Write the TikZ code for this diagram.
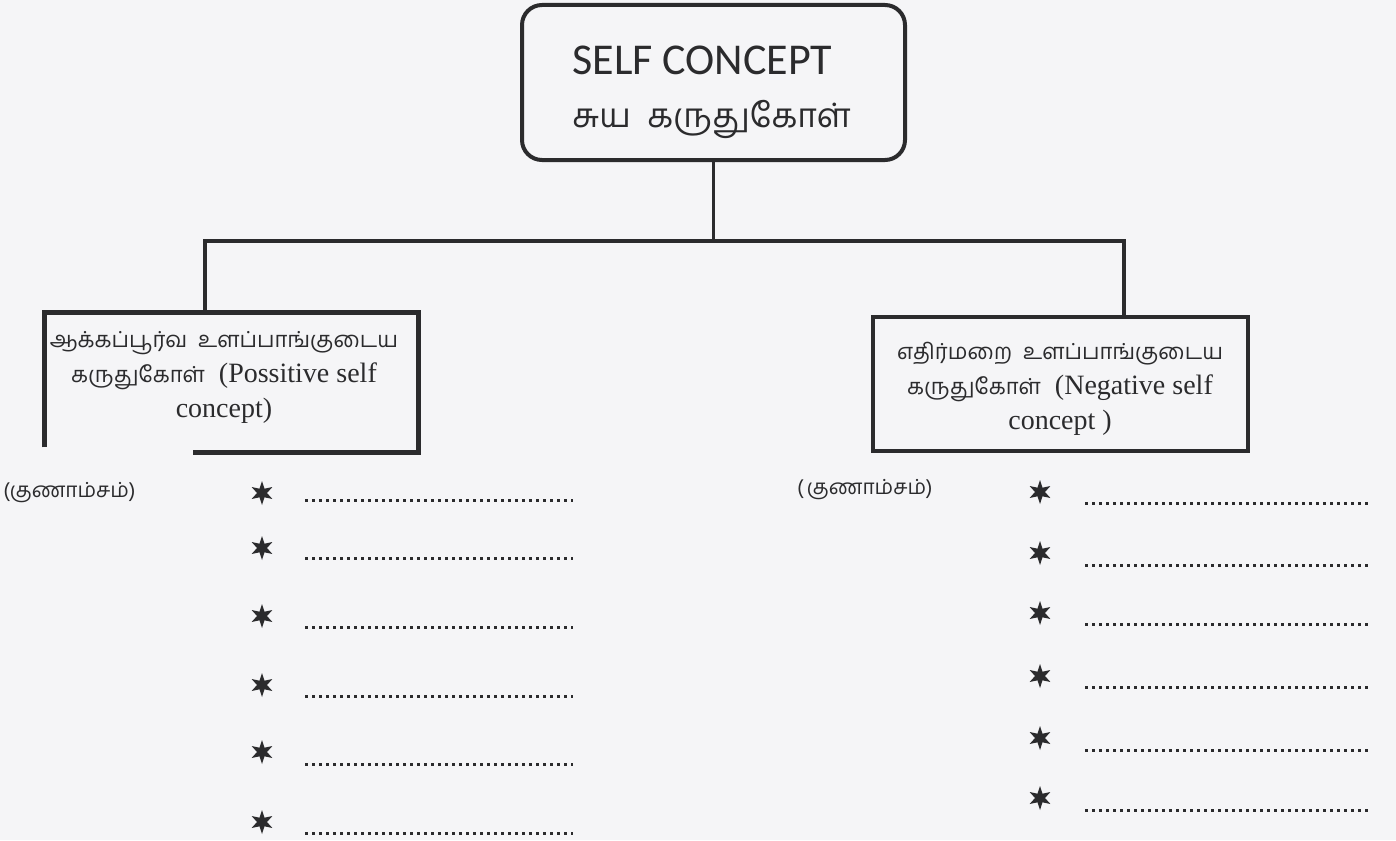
\documentclass[tikz,border=0pt]{standalone}
\usepackage{fontspec}
\setmainfont{Liberation Serif}
\newfontfamily\tamfont[Script=Tamil,Scale=0.8]{Hind Madurai}
\newfontfamily\carfont{Carlito}
\usetikzlibrary{shapes.geometric,calc}
\definecolor{ink}{HTML}{2B2B2D}
\definecolor{paper}{HTML}{F5F5F7}
\tikzset{
  boxline/.style={draw=ink, line width=2.2pt, line join=miter},
  boxtxt/.style={align=center, text=ink, font=\fontsize{14}{17.5}\selectfont, inner sep=0pt},
  qlabel/.style={text=ink, font=\tamfont\fontsize{13}{16}\selectfont, inner sep=0pt},
  starsix/.style={shape=star, star points=6, star point ratio=2.4, fill=ink, draw=none, minimum size=12pt, inner sep=0pt},
  dotrule/.style={draw=ink, line width=1.5pt, dash pattern=on 1.3pt off 2.2pt}
}
\newcommand{\tamsm}[1]{{\tamfont\fontsize{13.8}{17.5}\selectfont #1}}
\begin{document}
\begin{tikzpicture}[x=0.5pt,y=-0.5pt]
\fill[paper] (0,0) rectangle (1396,840);
\useasboundingbox (0,0) rectangle (1396,840);

% top box
\node[draw=ink, line width=2pt, rounded corners=10pt, minimum width=191.5pt, minimum height=77.5pt, inner sep=0pt] (top) at (713.5,82.5) {};
\node[anchor=base west, inner sep=0pt, text=ink, font=\carfont\fontsize{22}{26}\selectfont] (t1) at (572,75) {SELF CONCEPT};
\node[anchor=base west, inner sep=0pt, text=ink, font=\tamfont\fontsize{21}{24}\selectfont] (t2) at (572,127) {சுய\ \ கருதுகோள்};

% left box
\node[minimum width=186.5pt, minimum height=69.5pt, inner sep=0pt] (lbox) at (231.5,382.5) {};
\draw[boxline] ($(lbox.south west)+(0,-5)$) -- (lbox.north west) -- (lbox.north east) -- (lbox.south east) -- ($(lbox.south west)+(148,0)$);
\node[boxtxt] (ltxt) at (224,377) {\tamsm{ஆக்கப்பூர்வ\ \ உளப்பாங்குடைய}\\\tamsm{கருதுகோள்}\ \ (Possitive self\\concept)};

% right box
\node[boxline, minimum width=187.5pt, minimum height=67pt, inner sep=0pt] (rbox) at (1060.5,384) {};
\node[boxtxt] (rtxt) at (1060,389) {\tamsm{எதிர்மறை\ \ உளப்பாங்குடைய}\\\tamsm{கருதுகோள்}\ \ (Negative self\\concept )};

% connectors
\coordinate (jl) at (205,241);
\coordinate (jr) at (1124,241);
\draw[draw=ink, line width=1.6pt] (top.south) -- (top.south |- jl);
\draw[draw=ink, line width=2.4pt, line join=miter] (lbox.north -| jl) -- (jl) -- (jr) -- (jr |- rbox.north);

% labels
\node[qlabel, anchor=west] (ql) at (3,493) {(குணாம்சம்)};
\node[qlabel, anchor=east] (qr) at (933,490) {(\,குணாம்சம்)};

% left column
\foreach \i/\y/\d in {1/493/500, 2/548/558, 3/616/627, 4/685/696, 5/752/764, 6/822/833}{
  \node[starsix] (sl\i) at (262,\y) {};
  \draw[dotrule] (305,\d) -- (573,\d);
}
% right column
\foreach \i/\y/\d in {1/492/503, 2/553/565, 3/613/624, 4/676/687, 5/738/750, 6/798/810}{
  \node[starsix] (sr\i) at (1040,\y) {};
  \draw[dotrule] (1085,\d) -- (1370,\d);
}
\end{tikzpicture}
\end{document}
